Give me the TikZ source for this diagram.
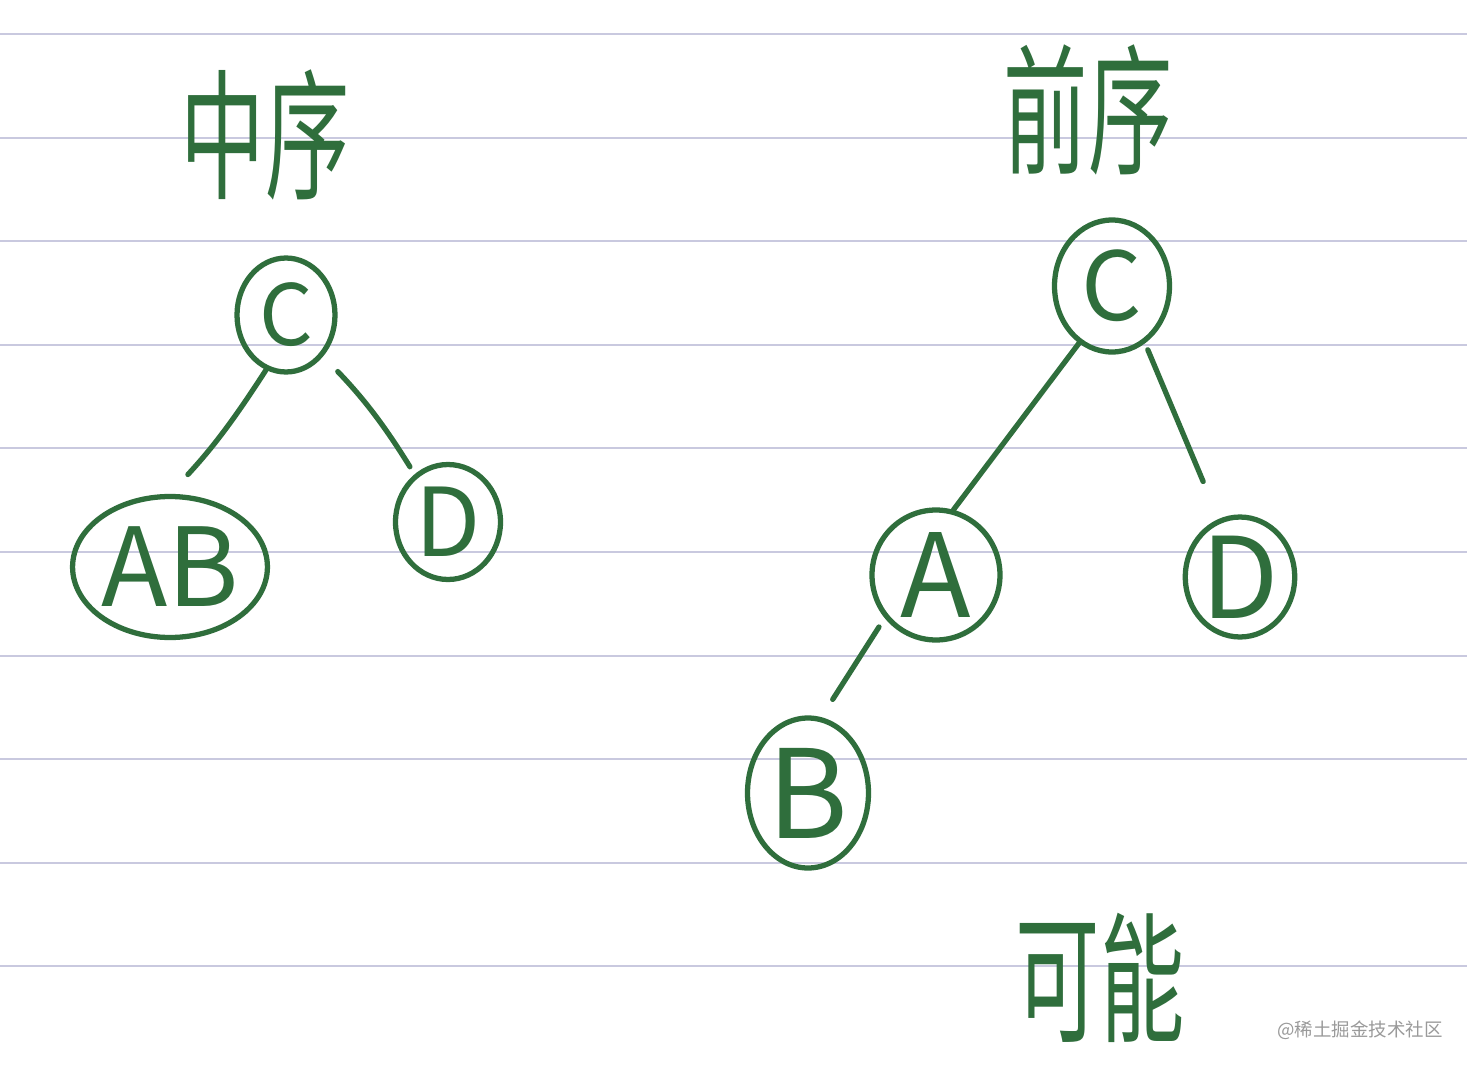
\documentclass[tikz,border=0pt]{standalone}
\usepackage{fontspec}
\setmainfont{Noto Sans CJK SC}
\usepackage{xcolor}
\usetikzlibrary{shapes.geometric}
\definecolor{ink}{HTML}{2F6E3C}
\definecolor{rule}{HTML}{C9C9DF}
\definecolor{mark}{HTML}{9A9A9A}
\tikzset{
	inkline/.style={ink,line width=3pt,line cap=round},
	ruled/.style={rule,line width=1.2pt},
	knot/.style={ellipse,draw=ink,line width=3pt,inner sep=0pt,text=ink},
	title/.style={text=ink,xscale=0.6,font=\fontsize{80}{80}\selectfont}
}
\begin{document}
\begin{tikzpicture}[x=0.02cm,y=-0.02cm]
	\fill[white] (0,0) rectangle (1467,1068);
	\useasboundingbox (0,0) rectangle (1467,1068);
	\foreach \k in {0,...,9}
		\draw[ruled] (0,34+103.6*\k) -- (1467,34+103.6*\k);
	\node[title] (inorder) at (265,135) {中序};
	\node[title] (preorder) at (1088,110) {前序};
	\node[title] (maybe) at (1100,978) {可能};
	\node[text=mark,font=\fontsize{10.5}{10.5}\selectfont] (wm) at (1360,1030) {@稀土掘金技术社区};
	\node[knot,minimum width=1.96cm,minimum height=2.28cm,font=\fontsize{48}{48}\selectfont] (lc) at (286,315) {C};
	\node[knot,minimum width=3.72cm,minimum height=2.82cm,font=\fontsize{62}{62}\selectfont] (lab) at (170,567) {AB};
	\node[knot,minimum width=2.1cm,minimum height=2.3cm,font=\fontsize{54}{54}\selectfont] (ld) at (448,522) {D};
	\node[knot,minimum width=2.3cm,minimum height=2.64cm,font=\fontsize{54}{54}\selectfont] (rc) at (1112,286) {C};
	\node[knot,minimum width=2.56cm,minimum height=2.6cm,font=\fontsize{66}{66}\selectfont] (ra) at (936,575) {A};
	\node[knot,minimum width=2.12cm,minimum height=2.4cm,font=\fontsize{64}{64}\selectfont] (rd) at (1240,577) {D};
	\node[knot,minimum width=2.42cm,minimum height=3cm,font=\fontsize{70}{70}\selectfont] (rb) at (808,793) {B};
	\draw[inkline,shorten >=15pt] (lc.-110) to[bend left=5] (lab.north);
	\draw[inkline,shorten <=12pt,shorten >=5pt] (lc.-48) to[bend left=6] (ld.125);
	\draw[inkline] (rc.-120) -- (ra.75);
	\draw[inkline,shorten <=4pt,shorten >=23pt] (rc.-60) -- (rd.110);
	\draw[inkline,shorten <=6pt,shorten >=12pt] (ra.-140) -- (rb.80);
\end{tikzpicture}
\end{document}
